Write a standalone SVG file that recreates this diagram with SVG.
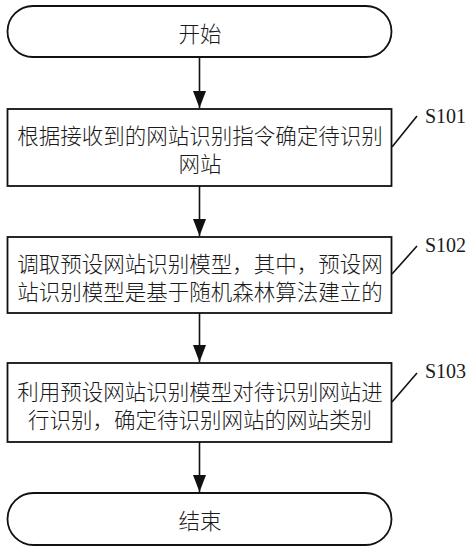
<svg xmlns="http://www.w3.org/2000/svg" width="474" height="551" viewBox="0 0 474 551">
<style>
.shape{fill:#fff;stroke:#111;stroke-width:1.8}
.t{font-family:"Noto Sans CJK SC","Noto Sans",sans-serif;font-size:21.5px;font-weight:300;fill:#1a1a1a;text-anchor:middle;dominant-baseline:central}
.lbl{font-family:"Liberation Serif","Times New Roman",serif;font-size:20px;fill:#1a1a1a}
.conn{stroke:#111;stroke-width:1.6;fill:none}
</style>
<defs>
<marker id="arr" markerWidth="17" markerHeight="13" refX="17" refY="6.5" orient="auto" markerUnits="userSpaceOnUse" viewBox="0 0 17 13">
<path d="M0,0 L17,6.5 L0,13 Z" fill="#111"/>
</marker>
</defs>
<rect width="474" height="551" fill="#fff"/>
<g id="start">
<rect class="shape" x="7.5" y="6" width="384" height="51" rx="25.5" ry="25.5"/>
<text class="t" x="200" y="32">开始</text>
</g>
<g id="s101">
<rect class="shape" x="7.5" y="109" width="384" height="77"/>
<text class="t"><tspan x="200" y="133.5">根据接收到的网站识别指令确定待识别</tspan><tspan x="200" y="161.5">网站</tspan></text>
<line class="conn" x1="392" y1="147" x2="417" y2="116"/>
<text class="lbl" x="425" y="123">S101</text>
</g>
<g id="s102">
<rect class="shape" x="7.5" y="237" width="384" height="76"/>
<text class="t"><tspan x="200" y="261.5">调取预设网站识别模型，其中，预设网</tspan><tspan x="200" y="289.5">站识别模型是基于随机森林算法建立的</tspan></text>
<line class="conn" x1="392" y1="274" x2="417" y2="246"/>
<text class="lbl" x="425" y="252">S102</text>
</g>
<g id="s103">
<rect class="shape" x="7.5" y="363" width="384" height="79"/>
<text class="t"><tspan x="200" y="390">利用预设网站识别模型对待识别网站进</tspan><tspan x="200" y="418">行识别，确定待识别网站的网站类别</tspan></text>
<line class="conn" x1="392" y1="402" x2="417" y2="373"/>
<text class="lbl" x="425" y="378">S103</text>
</g>
<g id="end">
<rect class="shape" x="7.5" y="493" width="384" height="52" rx="26" ry="26"/>
<text class="t" x="200" y="519">结束</text>
</g>
<g id="connectors">
<line class="conn" x1="199.5" y1="57" x2="199.5" y2="108" marker-end="url(#arr)"/>
<line class="conn" x1="199.5" y1="186" x2="199.5" y2="236" marker-end="url(#arr)"/>
<line class="conn" x1="199.5" y1="313" x2="199.5" y2="362" marker-end="url(#arr)"/>
<line class="conn" x1="199.5" y1="442" x2="199.5" y2="492" marker-end="url(#arr)"/>
</g>
</svg>
